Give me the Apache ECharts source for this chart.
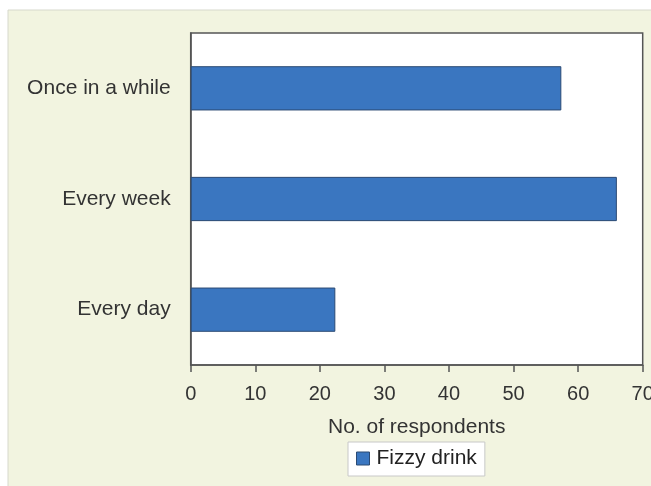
<!DOCTYPE html>
<html>
<head>
<meta charset="utf-8">
<script src="https://cdn.jsdelivr.net/npm/echarts@6/dist/echarts.min.js"></script>
<style>
  html, body { margin: 0; padding: 0; background: #ffffff; }
  #chart { width: 651px; height: 486px; }
</style>
</head>
<body>
<div id="chart"></div>
<script>
// How often respondents have a fizzy drink
const categories = ['Every day', 'Every week', 'Once in a while'];
const fizzyDrink = [22.4, 66, 57.4];
const xTicks = [0, 10, 20, 30, 40, 50, 60, 70];
const seriesName = 'Fizzy drink';
const axisTitle = 'No. of respondents';

const chart = echarts.init(document.getElementById('chart'), null, { renderer: 'canvas' });

const font = 'Liberation Sans, Arial, Helvetica, sans-serif';

chart.setOption({
  animation: false,
  backgroundColor: '#ffffff',
  graphic: [
    {
      type: 'rect',
      z: -10,
      silent: true,
      shape: { x: 8, y: 10, width: 660, height: 490 },
      style: { fill: '#f2f4e0', stroke: '#d6d8cc', lineWidth: 1 }
    }
  ],
  grid: {
    left: 190.7,
    right: 8.3,
    top: 33,
    bottom: 121,
    outerBoundsMode: 'none',
    containLabel: false,
    show: true,
    backgroundColor: '#ffffff',
    borderColor: '#555555',
    borderWidth: 1.5
  },
  legend: {
    data: [seriesName],
    left: 348,
    top: 442,
    orient: 'horizontal',
    backgroundColor: '#ffffff',
    borderColor: '#c8c8c8',
    borderWidth: 1,
    padding: [6, 8, 7, 8],
    itemWidth: 13,
    itemHeight: 13,
    itemGap: 7,
    icon: 'rect',
    itemStyle: { borderColor: '#2b4a73', borderWidth: 1 },
    textStyle: { fontFamily: font, fontSize: 21, color: '#222222', padding: [0, 0, 0, 2] }
  },
  xAxis: {
    type: 'value',
    min: xTicks[0],
    max: xTicks[xTicks.length - 1],
    interval: 10,
    name: axisTitle,
    nameLocation: 'middle',
    nameGap: 52,
    nameTextStyle: { fontFamily: font, fontSize: 21, color: '#333333' },
    axisLine: { show: true, lineStyle: { color: '#555555', width: 1.5 } },
    axisTick: { show: true, length: 7, lineStyle: { color: '#555555', width: 1.5 } },
    axisLabel: {
      margin: 19,
      fontFamily: font,
      fontSize: 20,
      color: '#333333',
      showMaxLabel: true,
      showMinLabel: true
    },
    splitLine: { show: false }
  },
  yAxis: {
    type: 'category',
    data: categories,
    axisLine: { show: true, lineStyle: { color: '#555555', width: 1.5 } },
    axisTick: { show: false },
    axisLabel: { margin: 20, fontFamily: font, fontSize: 21, color: '#333333' },
    splitLine: { show: false }
  },
  series: [
    {
      name: seriesName,
      type: 'bar',
      data: fizzyDrink,
      barCategoryGap: '60%',
      itemStyle: { color: '#3a76c0', borderColor: '#2b4a73', borderWidth: 1 }
    }
  ]
});
</script>
</body>
</html>
